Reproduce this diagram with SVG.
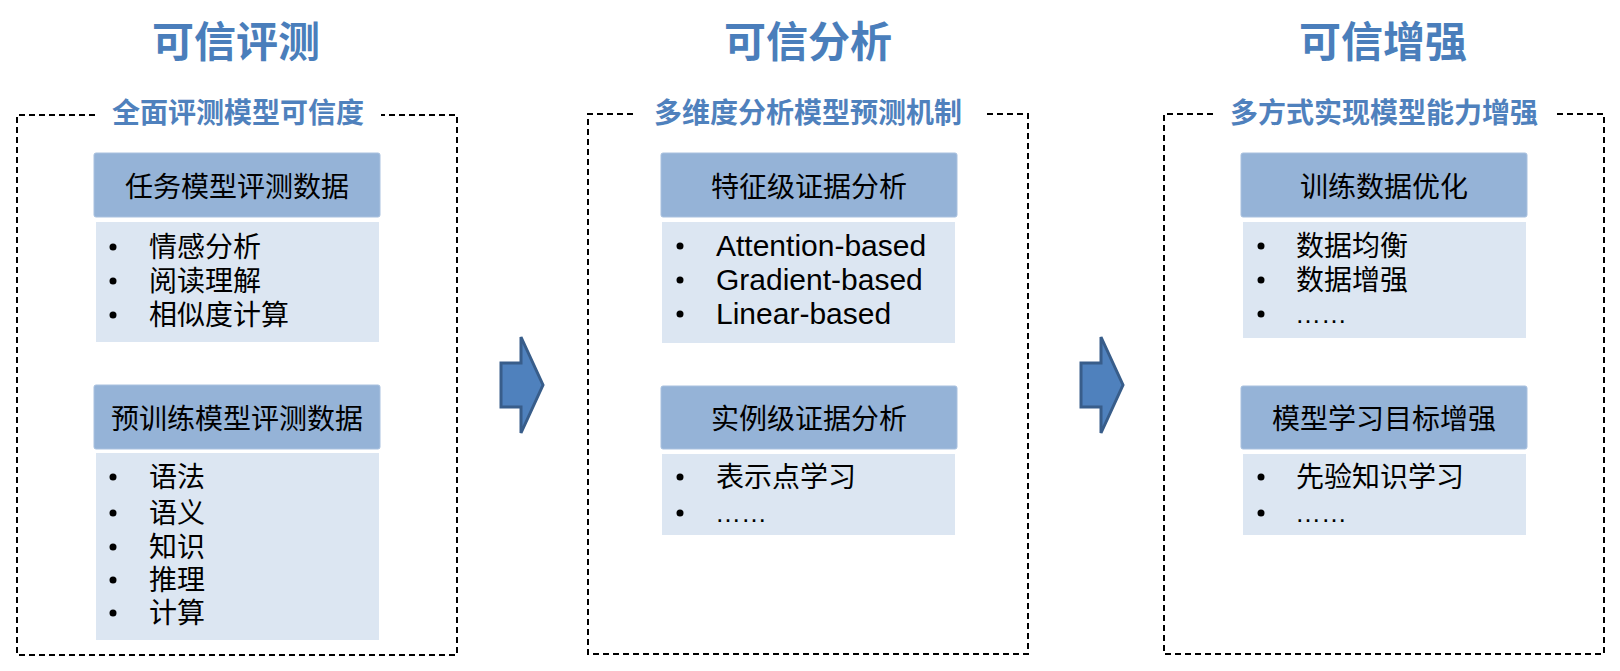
<svg xmlns="http://www.w3.org/2000/svg" width="1620" height="671" viewBox="0 0 1620 671">
<style>
.title{font-family:"Noto Sans CJK SC","Noto Sans",sans-serif;font-weight:bold;font-size:42px;fill:#4A7EBB;text-anchor:middle;dominant-baseline:central}
.sub{font-family:"Noto Sans CJK SC","Noto Sans",sans-serif;font-weight:bold;font-size:28px;fill:#4F81BD;text-anchor:middle;dominant-baseline:central}
.frame{fill:none;stroke:#000;stroke-width:2;stroke-dasharray:6 4}
.hdr{fill:#95B3D7;stroke:#A9C1DF;stroke-width:1}
.body{fill:#DCE6F2}
.ht{font-family:"Noto Sans CJK SC","Noto Sans",sans-serif;font-size:28px;fill:#000;text-anchor:middle;dominant-baseline:central}
.it{font-family:"Liberation Sans","Noto Sans CJK SC",sans-serif;font-size:28px;fill:#000}
.lt{font-family:"Liberation Sans",sans-serif;font-size:30px;fill:#000}
.el{font-family:"Liberation Sans",sans-serif;font-size:26px;fill:#000}
.bul{fill:#000}
.arrow{fill:#4F81BD;stroke:#385D8A;stroke-width:3;stroke-linejoin:miter}
</style>

<g id="col1">
<text class="title" x="236" y="38">可信评测</text>
<path class="frame" d="M95,115 H17 V655 H457 V115 H381"/>
<text class="sub" x="238" y="111">全面评测模型可信度</text>
</g>
<g id="node-task">
<rect class="hdr" x="94" y="153" width="286" height="64" rx="2"/>
<text class="ht" x="237" y="185">任务模型评测数据</text>
<rect class="body" x="96" y="222" width="283" height="120"/>
<circle class="bul" cx="113" cy="247" r="3.5"/><text class="it" x="149" y="257">情感分析</text>
<circle class="bul" cx="113" cy="281" r="3.5"/><text class="it" x="149" y="291">阅读理解</text>
<circle class="bul" cx="113" cy="315" r="3.5"/><text class="it" x="149" y="325">相似度计算</text>
</g>
<g id="node-pretrain">
<rect class="hdr" x="94" y="385" width="286" height="64" rx="2"/>
<text class="ht" x="237" y="417">预训练模型评测数据</text>
<rect class="body" x="96" y="453" width="283" height="187"/>
<circle class="bul" cx="113" cy="477" r="3.5"/><text class="it" x="149" y="487">语法</text>
<circle class="bul" cx="113" cy="513" r="3.5"/><text class="it" x="149" y="523">语义</text>
<circle class="bul" cx="113" cy="547" r="3.5"/><text class="it" x="149" y="557">知识</text>
<circle class="bul" cx="113" cy="580" r="3.5"/><text class="it" x="149" y="590">推理</text>
<circle class="bul" cx="113" cy="613" r="3.5"/><text class="it" x="149" y="623">计算</text>
</g>

<g id="col2">
<text class="title" x="808" y="38">可信分析</text>
<path class="frame" d="M633,114 H588 V654 H1028 V114 H985"/>
<text class="sub" x="808" y="111">多维度分析模型预测机制</text>
</g>
<g id="node-feature">
<rect class="hdr" x="661" y="153" width="296" height="64" rx="2"/>
<text class="ht" x="809" y="185">特征级证据分析</text>
<rect class="body" x="662" y="222" width="293" height="121"/>
<circle class="bul" cx="680" cy="246" r="3.5"/><text class="lt" x="716" y="256">Attention-based</text>
<circle class="bul" cx="680" cy="280" r="3.5"/><text class="lt" x="716" y="290">Gradient-based</text>
<circle class="bul" cx="680" cy="314" r="3.5"/><text class="lt" x="716" y="324">Linear-based</text>
</g>
<g id="node-instance">
<rect class="hdr" x="661" y="386" width="296" height="63" rx="2"/>
<text class="ht" x="809" y="417">实例级证据分析</text>
<rect class="body" x="662" y="454" width="293" height="81"/>
<circle class="bul" cx="680" cy="477" r="3.5"/><text class="it" x="716" y="487">表示点学习</text>
<circle class="bul" cx="680" cy="513" r="3.5"/><text class="el" x="715" y="522">……</text>
</g>

<g id="col3">
<text class="title" x="1383" y="38">可信增强</text>
<path class="frame" d="M1213,114 H1164 V654 H1604 V114 H1555"/>
<text class="sub" x="1384" y="111">多方式实现模型能力增强</text>
</g>
<g id="node-data">
<rect class="hdr" x="1241" y="153" width="286" height="64" rx="2"/>
<text class="ht" x="1384" y="185">训练数据优化</text>
<rect class="body" x="1243" y="222" width="283" height="116"/>
<circle class="bul" cx="1261" cy="246" r="3.5"/><text class="it" x="1296" y="256">数据均衡</text>
<circle class="bul" cx="1261" cy="280" r="3.5"/><text class="it" x="1296" y="290">数据增强</text>
<circle class="bul" cx="1261" cy="314" r="3.5"/><text class="el" x="1295" y="323">……</text>
</g>
<g id="node-objective">
<rect class="hdr" x="1241" y="386" width="286" height="63" rx="2"/>
<text class="ht" x="1384" y="417">模型学习目标增强</text>
<rect class="body" x="1243" y="454" width="283" height="81"/>
<circle class="bul" cx="1261" cy="477" r="3.5"/><text class="it" x="1296" y="487">先验知识学习</text>
<circle class="bul" cx="1261" cy="513" r="3.5"/><text class="el" x="1295" y="522">……</text>
</g>

<g id="connectors">
<path class="arrow" d="M501,363 H521 V337 L543,385 L521,433 V407 H501 Z"/>
<path class="arrow" d="M1081,363 H1101 V337 L1123,385 L1101,433 V407 H1081 Z"/>
</g>
</svg>
